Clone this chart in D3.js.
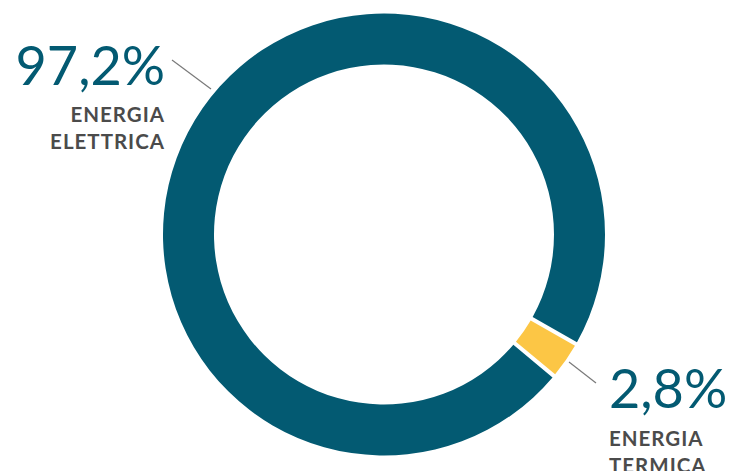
<!DOCTYPE html>
<html>
<head>
<meta charset="utf-8">
<script src="https://cdn.jsdelivr.net/npm/d3@7"></script>
<style>
  html, body { margin: 0; padding: 0; background: #fff; }
  #plot { width: 731px; height: 471px; overflow: hidden; }
</style>
</head>
<body>
<div id="plot"></div>
<script>
// Donut: energy share (thermal vs electric)
const categories = ['ENERGIA TERMICA', 'ENERGIA ELETTRICA'];
const values = [2.8, 97.2];
const valueLabels = ['2,8%', '97,2%'];
const colors = ['#fcc645', '#035a72'];

const W = 731, H = 471;
const cx = 384, cy = 234.5;
const outerR = 221, innerR = 170;

const svg = d3.select('#plot').append('svg').attr('width', W).attr('height', H);
const g = svg.append('g').attr('transform', `translate(${cx},${cy})`);

const data = categories.map((c, i) => ({ cat: c, value: values[i], label: valueLabels[i], color: colors[i] }));

const startDeg = 119.7;
const pie = d3.pie().sort(null).value((d) => d.value)
  .startAngle(startDeg * Math.PI / 180)
  .endAngle((startDeg + 360) * Math.PI / 180);

const arc = d3.arc().innerRadius(innerR).outerRadius(outerR).padAngle(0.0145);

const arcs = pie(data);
g.selectAll('path').data(arcs).enter().append('path')
  .attr('d', arc)
  .attr('fill', (d) => d.data.color);

// leader lines + labels
const labelFont = 'Lato, "Noto Sans", sans-serif';

const layout = [
  { anchor: 'start', x: 609, yPct: 408, yCat: 446, line: [[569, 362], [596, 383]] },
  { anchor: 'end', x: 165, yPct: 85, yCat: 122, line: [[211, 89], [172, 60]] },
];

arcs.forEach((a, i) => {
  const L = layout[i];
  svg.append('line')
    .attr('x1', L.line[0][0]).attr('y1', L.line[0][1])
    .attr('x2', L.line[1][0]).attr('y2', L.line[1][1])
    .attr('stroke', '#7a7a7a').attr('stroke-width', 1.2);
  svg.append('text')
    .attr('x', L.x).attr('y', L.yPct)
    .attr('text-anchor', L.anchor)
    .style('font-family', labelFont)
    .style('font-size', '54px')
    .style('font-weight', 400)
    .style('fill', '#035a72')
    .text(a.data.label);
  const words = a.data.cat.split(' ');
  words.forEach((w, j) => {
    svg.append('text')
      .attr('x', L.x).attr('y', L.yCat + j * 27)
      .attr('text-anchor', L.anchor)
      .style('font-family', labelFont)
      .style('font-size', '20.5px')
      .style('font-weight', 700)
      .style('letter-spacing', '1px')
      .style('fill', '#4b4b4b')
      .text(w);
  });
});
</script>
</body>
</html>
